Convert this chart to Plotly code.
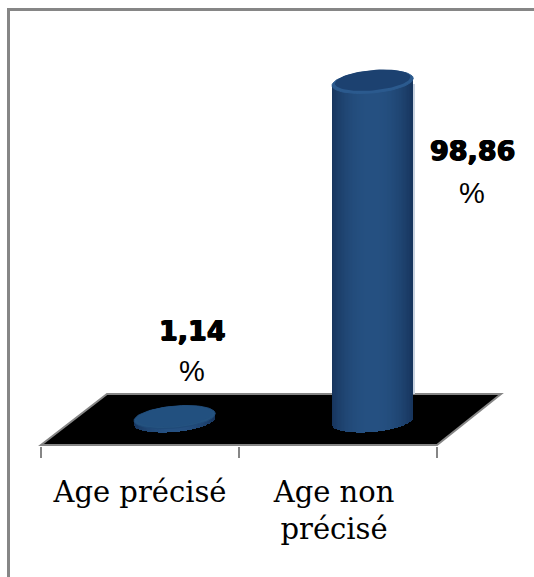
import math
import plotly.graph_objects as go

# Chart data
categories = ["Age précisé", "Age non<br>précisé"]
values = [1.14, 98.86]

W, H = 534, 577
CAT_STEP = 198.0      # pixels per category
X_ORIGIN = 140.0      # pixel position of the first category
Y_ZERO = 421.0        # pixel height of value 0
Y_SCALE = 3.43        # pixels per percentage point
DEPTH = 0.175         # cylinders sit this far back on the floor, in category units
R_X = 0.205           # cylinder radius in category units
R_Y = 11.0 / Y_SCALE  # ellipse half height in value units
TILT = 3.5 / Y_SCALE  # slope of the ellipse, in value units per radius

def px_y(py):
    return (Y_ZERO - py) / Y_SCALE

def ellipse(cx, cy, scale=1.0):
    xs, ys = [], []
    for i in range(73):
        t = 2 * math.pi * i / 72
        u = math.cos(t)
        xs.append(cx + R_X * u * scale)
        ys.append(cy + R_Y * math.sin(t) * scale + TILT * u * scale)
    return xs, ys

def body_colour(u):
    # Horizontal shading across the cylinder: dark rims, lighter centre
    k = 1 - abs(u) ** 2.4
    a, b = (22, 52, 92), (37, 80, 129)
    return "rgb(%d,%d,%d)" % tuple(round(a[i] + (b[i] - a[i]) * k) for i in range(3))

fig = go.Figure()

# Cylinders: thin bars follow the lower ellipse, capped by the upper one
N = 60
for i, v in enumerate(values):
    cx = i + DEPTH
    sx, sb, sv, sc = [], [], [], []
    for k in range(N):
        u = -1 + (2 * k + 1) / N
        sx.append(cx + R_X * u)
        base = TILT * u - R_Y * math.sqrt(1 - u * u)
        sb.append(base)
        sv.append(v + TILT * u - base)
        sc.append(body_colour(u))
    fig.add_trace(go.Bar(x=sx, y=sv, base=sb, width=2 * R_X / N * 1.08,
                         marker=dict(color=sc, line=dict(width=0)),
                         hoverinfo="skip", showlegend=False))
    if v > 50:
        # Pale reflection on the right side of the tall cylinder, above the floor
        floor_back = px_y(394)
        fig.add_trace(go.Bar(x=[cx + R_X + 0.005], y=[v - 0.5 - floor_back], base=[floor_back],
                             width=0.01, marker=dict(color="#c9d3e0", line=dict(width=0)),
                             hoverinfo="skip", showlegend=False))
    ex, ey = ellipse(cx, v)
    fig.add_trace(go.Scatter(x=ex, y=ey, mode="lines", fill="toself",
                             fillcolor="#2b5a8e" if v > 50 else "#24527f",
                             line=dict(color="#2b5a8e" if v > 50 else "#1f4a78", width=1),
                             hoverinfo="skip", showlegend=False))
    ix, iy = ellipse(cx, v + 0.5 if v > 50 else v + 0.3, 0.93)
    fig.add_trace(go.Scatter(x=ix, y=iy, mode="lines", fill="toself",
                             fillcolor="#1c4170" if v > 50 else "#22507f",
                             line=dict(width=0),
                             hoverinfo="skip", showlegend=False))

# Value labels: number in heavy type, percent sign below it
label_pos = [(192, 330, 371), (472, 150, 193)]
annotations = []
for v, (lx, y1, y2) in zip(values, label_pos):
    annotations.append(dict(x=(lx - X_ORIGIN) / CAT_STEP, y=px_y(y1), xref="x", yref="y",
                            text="<b>%s</b>" % f"{v:.2f}".replace(".", ","), showarrow=False,
                            font=dict(family="DejaVu Sans", size=27, color="#000000",
                                      shadow="0.7px 0 0 #000, -0.7px 0 0 #000, 0 0.5px 0 #000")))
    annotations.append(dict(x=(lx - X_ORIGIN) / CAT_STEP, y=px_y(y2), xref="x", yref="y",
                            text="%", showarrow=False,
                            font=dict(family="Liberation Sans", size=29, color="#000000")))

# Floor of the 3D plot, kept under the cylinders
floor_x = [-0.5, 1.5, 1.5 + 64 / CAT_STEP, -0.5 + 66 / CAT_STEP]
floor_y = [px_y(445), px_y(445), px_y(394), px_y(394)]
floor_path = "M " + " L ".join(f"{a:.4f},{b:.4f}" for a, b in zip(floor_x, floor_y)) + " Z"

shapes = [
    dict(type="path", xref="x", yref="y", path=floor_path, layer="below",
         fillcolor="#000000", line=dict(color="#868686", width=2)),
    # Chart frame: left and top edges only
    dict(type="line", xref="paper", yref="paper", x0=8.5 / W, x1=8.5 / W, y0=0, y1=1 - 8 / H,
         line=dict(color="#868686", width=3)),
    dict(type="line", xref="paper", yref="paper", x0=7 / W, x1=1, y0=1 - 9.5 / H, y1=1 - 9.5 / H,
         line=dict(color="#868686", width=3)),
]

fig.update_layout(
    width=W, height=H, margin=dict(l=0, r=0, t=0, b=0), autosize=False,
    paper_bgcolor="#ffffff", plot_bgcolor="#ffffff", barmode="overlay", bargap=0,
    annotations=annotations, shapes=shapes,
    xaxis=dict(range=[-X_ORIGIN / CAT_STEP, (W - X_ORIGIN) / CAT_STEP], anchor="free",
               position=1 - 445.5 / H, showgrid=False, zeroline=False, showline=False,
               tickmode="array", tickvals=[0, 0.98], ticktext=categories,
               ticks="", ticklabelstandoff=26,
               tickfont=dict(family="DejaVu Serif", size=29, color="#000000"),
               minor=dict(tickmode="array", tickvals=[-0.5, 0.5, 1.5], ticks="outside",
                          ticklen=11, tickwidth=2, tickcolor="#868686", showgrid=False)),
    yaxis=dict(range=[px_y(H), px_y(0)], visible=False),
)

fig.write_html("out.html", config=dict(displayModeBar=False))
